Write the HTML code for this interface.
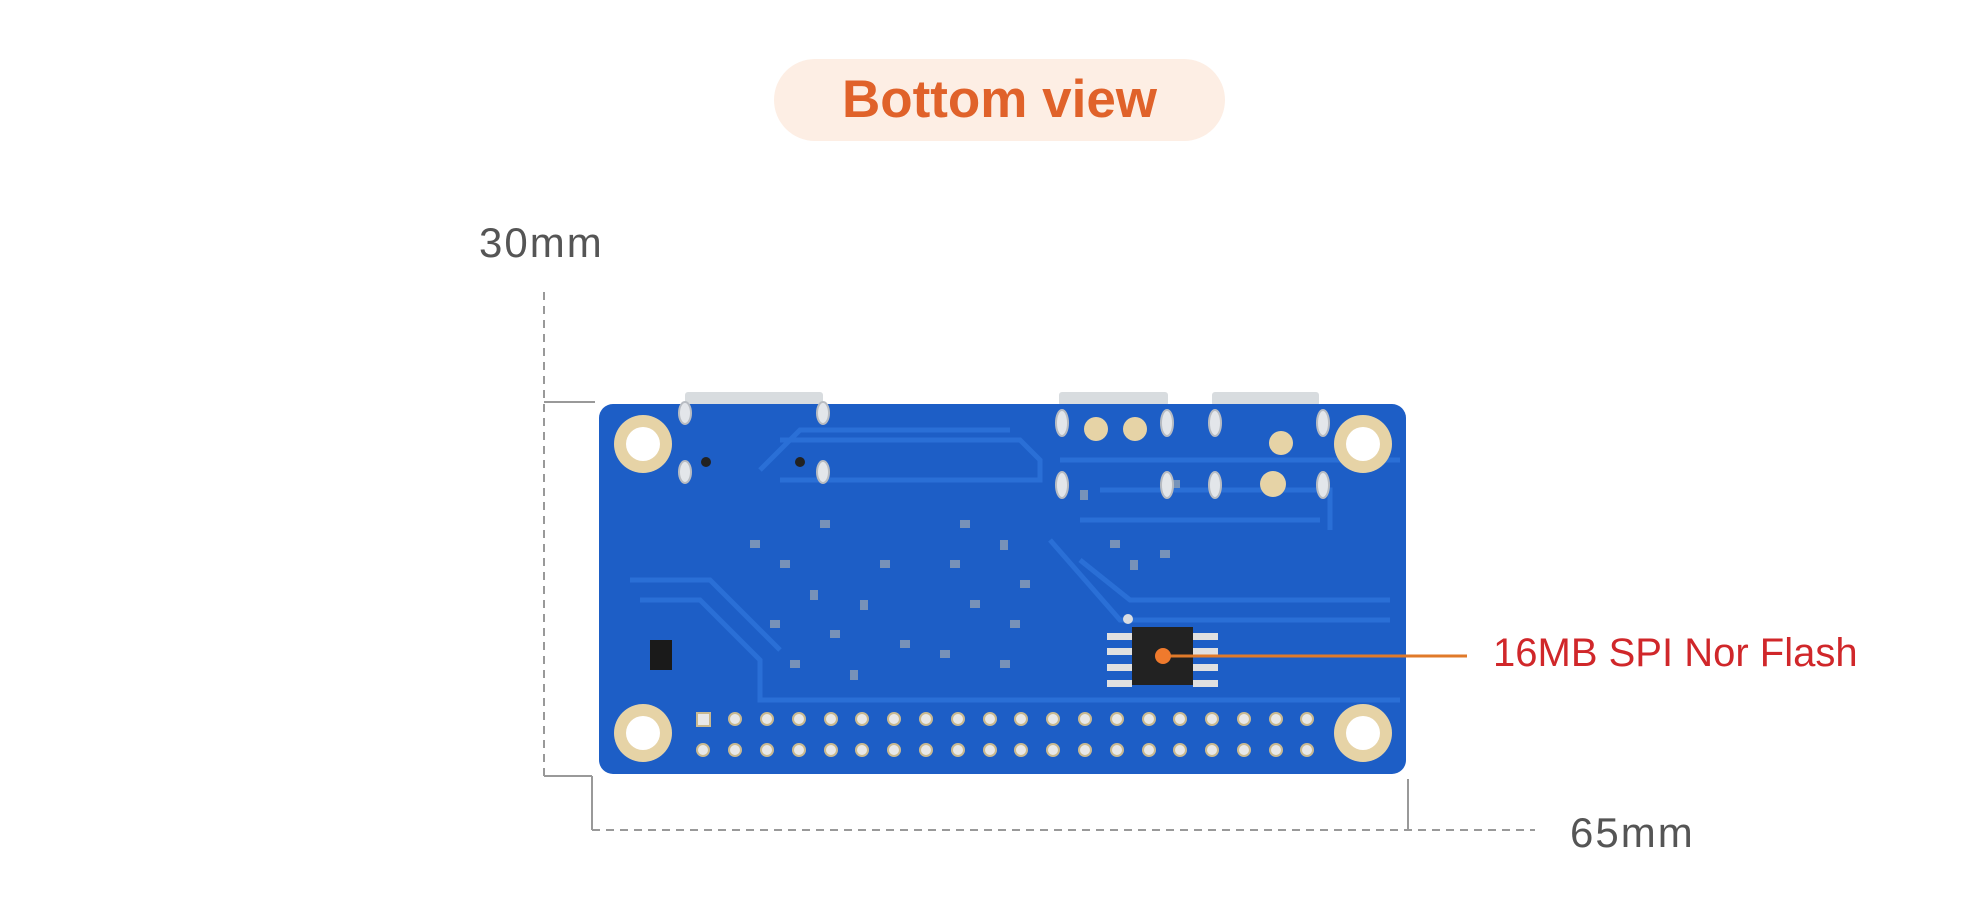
<!DOCTYPE html>
<html><head><meta charset="utf-8"><style>
html,body{margin:0;padding:0;background:#fff;}
body{width:1970px;height:918px;position:relative;overflow:hidden;font-family:"Liberation Sans",sans-serif;}
.t{position:absolute;white-space:nowrap;}
</style></head><body>
<div style="position:absolute;left:774px;top:59px;width:451px;height:82px;border-radius:41px;background:#fdeee4;"></div>
<div class="t" style="left:774px;width:451px;top:70px;text-align:center;font-size:53px;font-weight:600;color:#e0622a;line-height:60px;">Bottom view</div>
<div class="t" style="left:479px;top:218px;font-size:42px;color:#555;letter-spacing:2px;line-height:50px;">30mm</div>
<div class="t" style="left:1570px;top:808px;font-size:42px;color:#555;letter-spacing:2px;line-height:50px;">65mm</div>
<div class="t" style="left:1493px;top:630px;font-size:40px;color:#d0272a;line-height:46px;">16MB SPI Nor Flash</div>
<svg width="1970" height="918" style="position:absolute;left:0;top:0">
<g stroke="#999" stroke-width="2" fill="none">
<line x1="544" y1="292" x2="544" y2="776" stroke-dasharray="8,6"/>
<line x1="544" y1="402" x2="595" y2="402"/>
<line x1="544" y1="776" x2="592" y2="776"/>
<line x1="592" y1="776" x2="592" y2="830"/>
<line x1="592" y1="830" x2="1535" y2="830" stroke-dasharray="8,6"/>
<line x1="1408" y1="779" x2="1408" y2="830"/>
</g>
<g fill="#d8dcdf"><rect x="685" y="392" width="138" height="14" rx="3"/><rect x="1059" y="392" width="109" height="14" rx="3"/><rect x="1212" y="392" width="107" height="14" rx="3"/></g>
<rect x="599" y="404" width="807" height="370" rx="14" fill="#1d5ec6"/>
<g stroke="#2a6fd6" stroke-width="5" fill="none">
<path d="M640 600 L700 600 L760 660 L760 700 L1400 700"/>
<path d="M630 580 L710 580 L780 650"/>
<path d="M780 440 L1020 440 L1040 460 L1040 480 L780 480"/>
<path d="M760 470 L800 430 L1010 430"/>
<path d="M1060 460 L1400 460"/>
<path d="M1080 520 L1320 520"/>
<path d="M1050 540 L1120 620 L1390 620"/>
<path d="M1080 560 L1130 600 L1390 600"/>
<path d="M1100 490 L1330 490 L1330 530"/>
</g>
<g fill="#8fa0b5" opacity="0.8">
<rect x="750" y="540" width="10" height="8"/><rect x="780" y="560" width="10" height="8"/><rect x="810" y="590" width="8" height="10"/><rect x="770" y="620" width="10" height="8"/><rect x="830" y="630" width="10" height="8"/><rect x="860" y="600" width="8" height="10"/><rect x="880" y="560" width="10" height="8"/><rect x="790" y="660" width="10" height="8"/><rect x="850" y="670" width="8" height="10"/><rect x="900" y="640" width="10" height="8"/><rect x="950" y="560" width="10" height="8"/><rect x="970" y="600" width="10" height="8"/><rect x="1000" y="540" width="8" height="10"/><rect x="1010" y="620" width="10" height="8"/><rect x="940" y="650" width="10" height="8"/><rect x="1020" y="580" width="10" height="8"/><rect x="960" y="520" width="10" height="8"/><rect x="1000" y="660" width="10" height="8"/><rect x="1110" y="540" width="10" height="8"/><rect x="1130" y="560" width="8" height="10"/><rect x="1160" y="550" width="10" height="8"/><rect x="1170" y="480" width="10" height="8"/><rect x="1080" y="490" width="8" height="10"/><rect x="820" y="520" width="10" height="8"/>
</g>
<rect x="650" y="640" width="22" height="30" fill="#1a1a1a"/>
<g fill="#e6d3a6"><circle cx="643" cy="444" r="29"/><circle cx="1363" cy="444" r="29"/><circle cx="643" cy="733" r="29"/><circle cx="1363" cy="733" r="29"/></g>
<g fill="#fff"><circle cx="643" cy="444" r="17"/><circle cx="1363" cy="444" r="17"/><circle cx="643" cy="733" r="17"/><circle cx="1363" cy="733" r="17"/></g>
<g fill="#e3e6ea" stroke="#b8bcc2" stroke-width="2">
<ellipse cx="685" cy="413" rx="6" ry="11"/><ellipse cx="823" cy="413" rx="6" ry="11"/><ellipse cx="685" cy="472" rx="6" ry="11"/><ellipse cx="823" cy="472" rx="6" ry="11"/>
<ellipse cx="1062" cy="423" rx="6" ry="13"/><ellipse cx="1167" cy="423" rx="6" ry="13"/><ellipse cx="1215" cy="423" rx="6" ry="13"/><ellipse cx="1323" cy="423" rx="6" ry="13"/>
<ellipse cx="1062" cy="485" rx="6" ry="13"/><ellipse cx="1167" cy="485" rx="6" ry="13"/><ellipse cx="1215" cy="485" rx="6" ry="13"/><ellipse cx="1323" cy="485" rx="6" ry="13"/>
</g>
<g fill="#e6d3a6"><circle cx="1096" cy="429" r="12"/><circle cx="1135" cy="429" r="12"/><circle cx="1281" cy="443" r="12"/><circle cx="1273" cy="484" r="13"/></g>
<g fill="#222"><circle cx="706" cy="462" r="5"/><circle cx="800" cy="462" r="5"/></g>
<g fill="#e8e8e8" stroke="#c9b98f" stroke-width="2">
<rect x="697" y="713" width="13" height="13"/>
<circle cx="735" cy="719" r="6"/><circle cx="767" cy="719" r="6"/><circle cx="799" cy="719" r="6"/><circle cx="831" cy="719" r="6"/><circle cx="862" cy="719" r="6"/><circle cx="894" cy="719" r="6"/><circle cx="926" cy="719" r="6"/><circle cx="958" cy="719" r="6"/><circle cx="990" cy="719" r="6"/><circle cx="1021" cy="719" r="6"/><circle cx="1053" cy="719" r="6"/><circle cx="1085" cy="719" r="6"/><circle cx="1117" cy="719" r="6"/><circle cx="1149" cy="719" r="6"/><circle cx="1180" cy="719" r="6"/><circle cx="1212" cy="719" r="6"/><circle cx="1244" cy="719" r="6"/><circle cx="1276" cy="719" r="6"/><circle cx="1307" cy="719" r="6"/>
<circle cx="703" cy="750" r="6"/><circle cx="735" cy="750" r="6"/><circle cx="767" cy="750" r="6"/><circle cx="799" cy="750" r="6"/><circle cx="831" cy="750" r="6"/><circle cx="862" cy="750" r="6"/><circle cx="894" cy="750" r="6"/><circle cx="926" cy="750" r="6"/><circle cx="958" cy="750" r="6"/><circle cx="990" cy="750" r="6"/><circle cx="1021" cy="750" r="6"/><circle cx="1053" cy="750" r="6"/><circle cx="1085" cy="750" r="6"/><circle cx="1117" cy="750" r="6"/><circle cx="1149" cy="750" r="6"/><circle cx="1180" cy="750" r="6"/><circle cx="1212" cy="750" r="6"/><circle cx="1244" cy="750" r="6"/><circle cx="1276" cy="750" r="6"/><circle cx="1307" cy="750" r="6"/>
</g>
<g fill="#e0e0e0"><rect x="1107" y="633" width="25" height="7"/><rect x="1107" y="648" width="25" height="7"/><rect x="1107" y="664" width="25" height="7"/><rect x="1107" y="680" width="25" height="7"/>
<rect x="1193" y="633" width="25" height="7"/><rect x="1193" y="648" width="25" height="7"/><rect x="1193" y="664" width="25" height="7"/><rect x="1193" y="680" width="25" height="7"/></g>
<circle cx="1128" cy="619" r="5" fill="#d9dde2"/>
<rect x="1132" y="627" width="61" height="58" fill="#222"/>
<line x1="1163" y1="656" x2="1467" y2="656" stroke="#e07a2a" stroke-width="3"/>
<circle cx="1163" cy="656" r="8" fill="#ef7a2d"/>
</svg>
</body></html>
